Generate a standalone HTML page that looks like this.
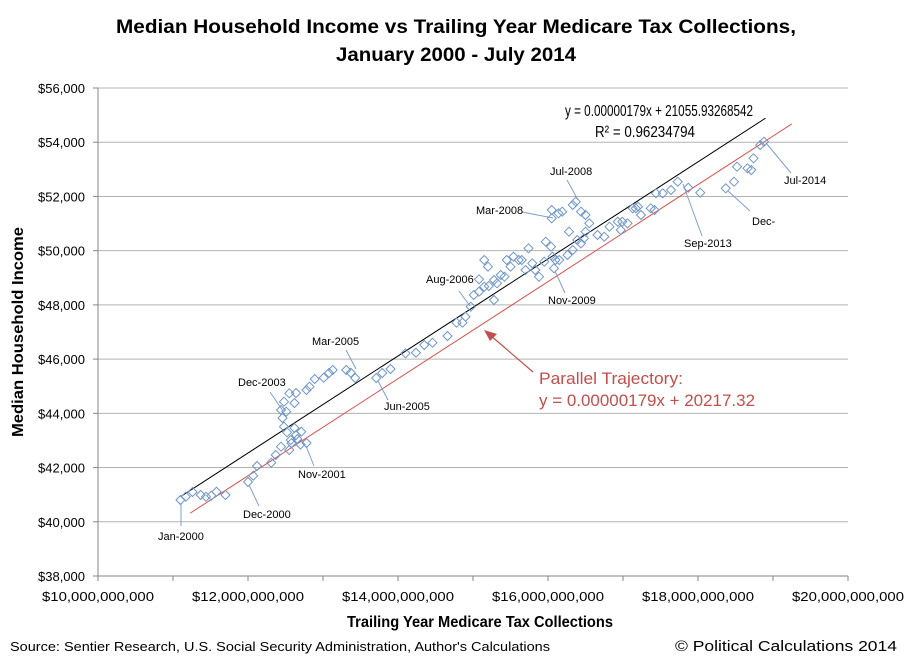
<!DOCTYPE html>
<html><head><meta charset="utf-8"><style>
html,body{margin:0;padding:0;background:#fff;}
svg{display:block;font-family:"Liberation Sans",sans-serif;}
</style></head><body>
<svg id="chart" width="910" height="662" viewBox="0 0 910 662">
<text x="456" y="33" text-anchor="middle" font-size="19" font-weight="bold" textLength="680" lengthAdjust="spacingAndGlyphs">Median Household Income vs Trailing Year Medicare Tax Collections,</text>
<text x="456" y="61" text-anchor="middle" font-size="19" font-weight="bold" textLength="240" lengthAdjust="spacingAndGlyphs">January 2000 - July 2014</text>
<g id="grid"></g>
<g id="axes"></g>
<g id="lines"></g>
<g id="ann"></g>
<g id="pts"></g>
<text x="659" y="116" text-anchor="middle" font-size="16" textLength="188" lengthAdjust="spacingAndGlyphs">y = 0.00000179x + 21055.93268542</text>
<text x="645" y="137" text-anchor="middle" font-size="16" textLength="100" lengthAdjust="spacingAndGlyphs">R² = 0.96234794</text>
<text x="539" y="384" font-size="17" fill="#c0504d" textLength="144" lengthAdjust="spacingAndGlyphs">Parallel Trajectory:</text>
<text x="539" y="406" font-size="17" fill="#c0504d" textLength="216" lengthAdjust="spacingAndGlyphs">y = 0.00000179x + 20217.32</text>
<line x1="533" y1="372" x2="490" y2="335" stroke="#c0504d" stroke-width="1.2"/>
<polygon points="484,330 497,334 490,341" fill="#c0504d"/>
<text transform="translate(23,332) rotate(-90)" text-anchor="middle" font-size="16" font-weight="bold" textLength="210" lengthAdjust="spacingAndGlyphs">Median Household Income</text>
<text x="480" y="627" text-anchor="middle" font-size="16" font-weight="bold" textLength="266" lengthAdjust="spacingAndGlyphs">Trailing Year Medicare Tax Collections</text>
<text x="10" y="651" font-size="13" textLength="540" lengthAdjust="spacingAndGlyphs">Source: Sentier Research, U.S. Social Security Administration, Author's Calculations</text>
<text x="897" y="651" text-anchor="end" font-size="15" textLength="222" lengthAdjust="spacingAndGlyphs">© Political Calculations 2014</text>
</svg>
<script>
// x values in billions of dollars, y values in dollars
const xVals=[11.10,11.17,11.26,11.37,11.44,11.51,11.58,11.70,12.00,12.07,12.12,12.31,12.37,12.44,12.55,12.57,12.64,12.71,12.78,12.62,12.48,12.46,12.51,12.44,12.48,12.55,12.62,12.64,12.78,12.82,12.89,13.01,13.08,13.13,13.31,13.37,13.43,13.71,13.79,13.90,12.58,12.66,12.70,12.52,
14.10,14.24,14.35,14.46,14.66,14.78,14.86,14.90,14.97,15.01,15.08,15.08,15.15,15.20,15.15,15.21,15.28,15.28,15.32,15.37,15.42,15.45,15.50,15.54,15.61,15.65,15.70,15.74,15.79,15.83,15.88,15.95,15.97,16.04,16.06,16.10,16.15,16.08,16.26,16.28,16.33,16.39,16.44,16.48,16.50,16.55,16.50,16.44,16.37,16.33,16.19,16.05,16.05,16.14,16.66,16.75,16.82,16.93,16.97,17.06,17.13,17.20,
16.99,17.17,17.24,17.37,17.42,17.44,17.53,17.64,17.73,17.87,18.03,18.37,18.48,18.52,18.66,18.71,18.74,18.83,18.88];
const yVals=[40803,40925,41098,40988,40925,40962,41109,40988,41467,41700,42057,42179,42463,42769,42648,43016,43200,43322,42906,43459,43507,43828,44060,44123,44429,44739,44381,44750,44861,44983,45266,45314,45488,45598,45598,45499,45303,45303,45488,45635,42900,43050,42850,43300,
46214,46236,46520,46605,46852,47343,47343,47564,47933,48365,48486,48944,49656,49409,48671,48697,48918,48180,48796,49102,49040,49656,49409,49778,49656,49656,49287,50087,49534,49287,49040,49593,50331,50146,49778,49656,49656,49349,49840,50700,50024,50393,50271,50456,50700,51009,51315,51437,51806,51684,51437,51500,51193,51378,50578,50515,50884,51068,50762,51009,51562,51621,
51068,51562,51315,51562,51500,52116,52116,52238,52544,52322,52138,52300,52544,53097,53038,52975,53407,53897,54019];
const yTicks=[38000,40000,42000,44000,46000,48000,50000,52000,54000,56000];
const xTicks=[10,12,14,16,18,20];
const xMinor=[11,13,15,17,19];
const trendSlope=[1.79];       // $ per $1000 of collections (0.00000179 * 1e9 / 1000)
const trendIntercepts=[21055.93,20217.32];
const trendRanges=[[11.10,18.90],[11.23,19.25]];
const annLabels=["Jan-2000","Dec-2000","Nov-2001","Dec-2003","Mar-2005","Jun-2005","Aug-2006","Mar-2008","Jul-2008","Nov-2009","Sep-2013","Dec-","Jul-2014"];

const NS="http://www.w3.org/2000/svg";
const X=v=>98+(v-10)*75;
const Y=v=>576-(v-38000)*(488/18000);
function mk(tag,attrs,parent){const e=document.createElementNS(NS,tag);for(const k in attrs)e.setAttribute(k,attrs[k]);parent.appendChild(e);return e;}
const grid=document.getElementById('grid'),axes=document.getElementById('axes'),lines=document.getElementById('lines'),pts=document.getElementById('pts'),ann=document.getElementById('ann');
yTicks.forEach(t=>{
  if(t>38000){const g=mk('line',{x1:98,x2:848,y1:Y(t),y2:Y(t),stroke:'#b3b3b3','stroke-width':1},grid);
  
  }
  const tk=mk('line',{x1:93,x2:98,y1:Y(t),y2:Y(t),stroke:'#868686'},axes);
  
  
  const lb=mk('text',{x:85,y:Y(t)+5,'text-anchor':'end','font-size':13},axes);
  
  
  lb.textContent='$'+t.toLocaleString('en-US');
});
const ya=mk('line',{x1:98,x2:98,y1:Y(56000),y2:576,stroke:'#868686'},axes);


const xa=mk('line',{x1:98,x2:848,y1:576,y2:576,stroke:'#868686'},axes);


xTicks.forEach(t=>{
  const tk=mk('line',{x1:X(t),x2:X(t),y1:576,y2:581,stroke:'#868686'},axes);
  
  
  const lb=mk('text',{x:X(t),y:601,'text-anchor':'middle','font-size':13,textLength:112,lengthAdjust:'spacingAndGlyphs'},axes);
  
  
  lb.textContent='$'+(t*1e9).toLocaleString('en-US');
});
xMinor.forEach(t=>{
  const tk=mk('line',{x1:X(t),x2:X(t),y1:576,y2:581,stroke:'#868686'},axes);
  
  
});
trendIntercepts.forEach((b,i)=>{
  const r=trendRanges[i];
  const f=v=>trendSlope[0]*v*1000+b;
  const l=mk('line',{x1:X(r[0]),y1:Y(f(r[0])),x2:X(r[1]),y2:Y(f(r[1])),stroke:i==0?'#000':'#d9534f','stroke-width':1},lines);
  
  
});
// annotation text positions and leader lines (layout only)
const annPos=[[158,540,181,503,181,526],[243,518,249,485,259,506],[298,478,306,446,314,466],[238,386,270,392,283,411],[312,345,346,350,356,369],[384,410,378,381,388,400],[426,283,459,291,470,306],[476,214,522,212,553,218],[550,175,567,180,578,200],[548,304,555,271,565,293],[684,247,683,184,702,236],[752,225,728,191,750,211],[784,184,766,143,791,173]];
annLabels.forEach((s,i)=>{
  const p=annPos[i];
  const l=mk('line',{x1:p[2],y1:p[3],x2:p[4],y2:p[5],stroke:'#7f9fcf','stroke-width':1},ann);
  
  
  const t=mk('text',{x:p[0],y:p[1],'font-size':11},ann);
  
  
  t.textContent=s;
});
xVals.forEach((v,i)=>{
  const cx=X(v),cy=Y(yVals[i]),r=4.5;
  const d=mk('polygon',{points:`${cx},${cy-r} ${cx+r},${cy} ${cx},${cy+r} ${cx-r},${cy}`,fill:'none',stroke:'#6f95c8','stroke-width':1},pts);
  
  
});
</script>
</body></html>
